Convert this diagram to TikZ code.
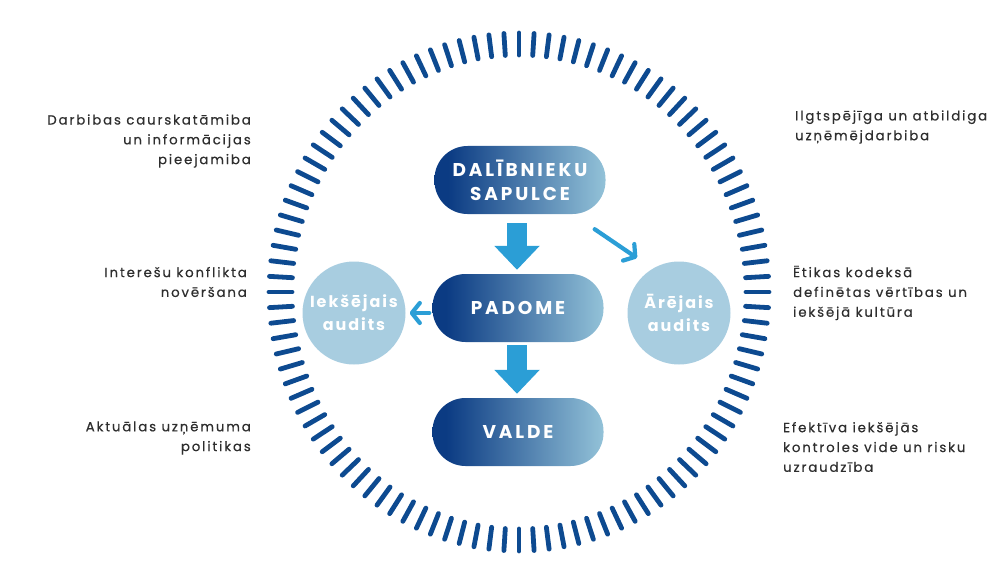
\documentclass[tikz,border=0pt]{standalone}
\usepackage{fontspec}
\setmainfont{Poppins}
\newfontfamily\sidefont[LetterSpace=14,FakeBold=0.5]{Poppins}
\newfontfamily\pillfont[LetterSpace=15.5]{Poppins}
\newfontfamily\circfont[LetterSpace=12]{Poppins}
\usetikzlibrary{arrows.meta,calc}
\definecolor{pilldk}{HTML}{0B3B83}
\definecolor{pilllt}{HTML}{93C2D8}
\definecolor{circfill}{HTML}{A8CDE0}
\definecolor{arrowblue}{HTML}{2B9ED6}
\definecolor{ringblue}{HTML}{0D4A90}
\definecolor{sidegray}{HTML}{2E2E2E}
\pgfdeclarehorizontalshading{pillshade}{100bp}{color(0bp)=(pilldk); color(29bp)=(pilldk); color(75bp)=(pilllt); color(100bp)=(pilllt)}
\tikzset{
  pill/.style={rectangle, rounded corners=33pt, minimum width=171pt, minimum height=68pt,
    shading=pillshade, text=white, align=center,
    font=\pillfont\bfseries\fontsize{18.5}{24}\selectfont},
  auditc/.style={circle, fill=circfill, minimum size=103pt, inner sep=0pt, text=white,
    align=center, font=\circfont\bfseries\fontsize{16}{23}\selectfont},
  sidetext/.style={text=sidegray, font=\sidefont\fontsize{13.3}{19.8}\selectfont, inner sep=0pt},
  blockarrow/.style={draw=arrowblue, line width=20pt, -{Triangle[length=24pt 0 0, width=44pt 0 0, fill=arrowblue]}},
  thinarrow/.style={draw=arrowblue, line width=4.2pt, line cap=round, line join=round,
    -{Straight Barb[length=8pt, width=20pt, round]}},
  ringdash/.style={draw=ringblue, line width=4.8pt, line cap=round}
}
\begin{document}
\begin{tikzpicture}[x=1pt,y=-1pt]
\useasboundingbox (0,0) rectangle (993,567);
% ring of dashes
\foreach \i in {0,...,103}{
  \pgfmathsetmacro\ang{\i*3.4615385}
  \draw[ringdash] ({519+227*cos(\ang)},{292+237*sin(\ang)}) -- ({519+250*cos(\ang)},{292+259*sin(\ang)});
}
% main nodes
\node[pill] (sap) at (520,180) {DALĪBNIEKU\\SAPULCE};
\node[pill] (pad) at (518,308) {PADOME};
\node[pill] (val) at (518,432) {VALDE};
\node[auditc] (iek) at (354,313) {Iekšējais\\audits};
\node[auditc] (are) at (679,313) {Ārējais\\audits};
\coordinate (aretip) at (637,258);
% connectors
\draw[blockarrow] ($(sap.south)+(-3,9)$) -- ($(pad.north)+(-1,-4)$);
\draw[blockarrow] ($(pad.south)+(-1,3)$) -- ($(val.north)+(-1,-4)$);
\draw[thinarrow] ($(pad.west|-iek.east)+(-3,0)$) -- ($(iek.east)+(4,0)$);
\draw[thinarrow] ($(sap.south east)+(-11,15)$) -- (aretip);
% side texts
\node[sidetext, anchor=east, align=right] (t1) at (251,141) {Darbibas caurskatāmiba\\un informācijas\\pieejamiba};
\node[sidetext, anchor=east, align=right] (t2) at (247,282) {Interešu konflikta\\novēršana};
\node[sidetext, anchor=east, align=right] (t3) at (251,438) {Aktuālas uzņēmuma\\politikas};
\node[sidetext, anchor=west, align=left] (t4) at (795,127) {Ilgtspējīga un atbildiga\\uzņēmējdarbiba};
\node[sidetext, anchor=west, align=left] (t5) at (793,293) {Ētikas kodeksā\\definētas vērtības un\\iekšējā kultūra};
\node[sidetext, anchor=west, align=left] (t6) at (783,447) {Efektīva iekšējās\\kontroles vide un risku\\uzraudzība};
\end{tikzpicture}
\end{document}
